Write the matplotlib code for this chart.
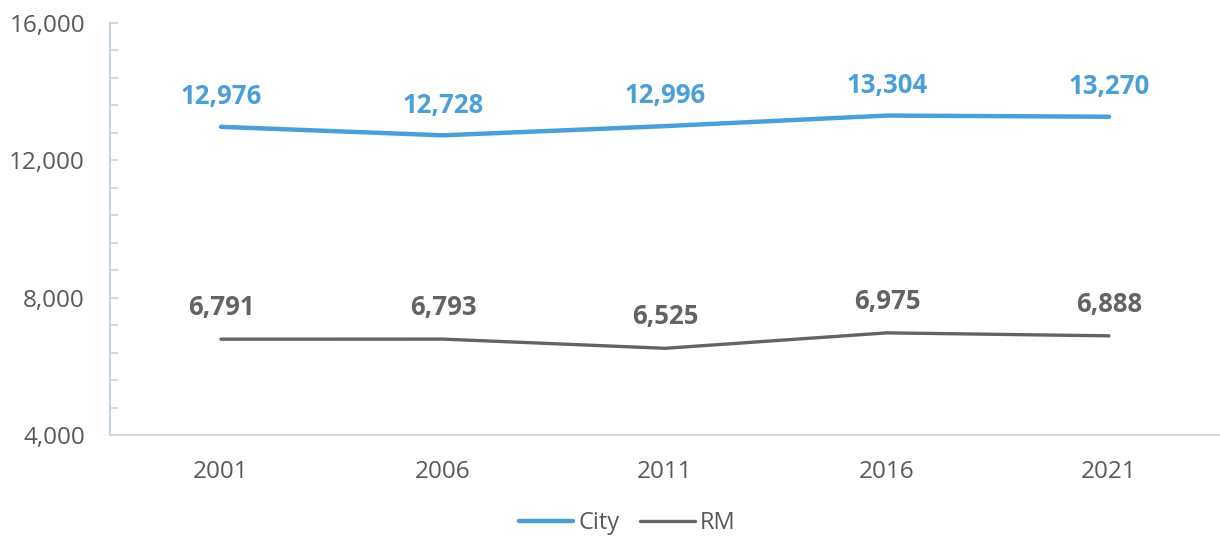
import matplotlib
matplotlib.use("Agg")
import matplotlib.pyplot as plt
from matplotlib.ticker import MultipleLocator, FuncFormatter

years = ["2001", "2006", "2011", "2016", "2021"]
city = [12976, 12728, 12996, 13304, 13270]
rm = [6791, 6793, 6525, 6975, 6888]

plt.rcParams['font.family'] = ['Open Sans', 'DejaVu Sans']

city_color = "#4A9FD8"
rm_color = "#636363"
text_color = "#595959"

fig = plt.figure(figsize=(12.2, 5.37), dpi=100)
ax = fig.add_axes([110/1220, 1-435/537, 1110/1220, (435-23)/537])

x = list(range(len(years)))
ax.plot(x, city, color=city_color, lw=3.2, solid_capstyle='round', label="City")
ax.plot(x, rm, color=rm_color, lw=2.4, solid_capstyle='round', label="RM")

for xi, v in zip(x, city):
    ax.annotate(f"{v:,}", (xi, v), xytext=(0, 12), textcoords='offset points',
                ha='center', va='bottom', fontsize=18.5, fontweight='bold', color=city_color)
for xi, v in zip(x, rm):
    ax.annotate(f"{v:,}", (xi, v), xytext=(0, 13), textcoords='offset points',
                ha='center', va='bottom', fontsize=18.5, fontweight='bold', color=rm_color)

ax.set_xlim(-0.5, 4.5)
ax.set_ylim(4000, 16000)
ax.set_xticks(x)
ax.set_xticklabels(years)
ax.yaxis.set_major_locator(MultipleLocator(4000))
ax.yaxis.set_minor_locator(MultipleLocator(800))
ax.yaxis.set_major_formatter(FuncFormatter(lambda v, p: f"{int(v):,}"))

for s in ['top', 'right']:
    ax.spines[s].set_visible(False)
ax.spines['left'].set_color('#C9D3DF')
ax.spines['left'].set_linewidth(1.5)
ax.spines['bottom'].set_color('#D9D9D9')
ax.spines['bottom'].set_linewidth(1.5)

ax.tick_params(axis='y', which='both', direction='in', color='#C9D3DF', width=1.2, labelsize=17.5, labelcolor=text_color, pad=18)
ax.tick_params(axis='y', which='major', length=6)
ax.tick_params(axis='y', which='minor', length=6)
ax.tick_params(axis='x', length=0, labelsize=17.5, labelcolor=text_color, pad=18)

leg = fig.legend(loc='center', bbox_to_anchor=(627/1220, 1-523/537), ncol=2, frameon=False,
                 fontsize=17, handlelength=2.3, handletextpad=0.2, columnspacing=0.9)
for t in leg.get_texts():
    t.set_color(text_color)

fig.savefig("out.png", dpi=100)
